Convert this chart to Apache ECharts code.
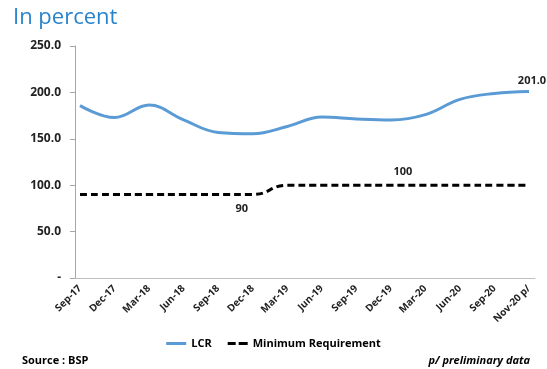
<!DOCTYPE html>
<html><head><meta charset="utf-8">
<script src="https://cdn.jsdelivr.net/npm/echarts@6/dist/echarts.min.js"></script>
<style>html,body{margin:0;padding:0;background:#fff}#c{width:547px;height:369px}</style>
</head><body><div id="c"></div>
<script>
const categories = ['Sep-17','Dec-17','Mar-18','Jun-18','Sep-18','Dec-18','Mar-19','Jun-19','Sep-19','Dec-19','Mar-20','Jun-20','Sep-20','Nov-20 p/'];
const lcr = [185.8, 172.9, 186.4, 170.3, 156.8, 155.4, 163.3, 173.5, 171.4, 170.3, 176.0, 192.5, 198.9, 201.0];
const minReq = [90, 90, 90, 90, 90, 90, 100, 100, 100, 100, 100, 100, 100, 100];
const yTicks = [0, 50, 100, 150, 200, 250];

const font = '"Open Sans", sans-serif';
const chart = echarts.init(document.getElementById('c'), null, {renderer: 'canvas'});
const lastIdx = lcr.length - 1;
const lblStyle = {fontFamily: font, fontSize: 11, fontWeight: 'bold', color: '#222'};
chart.setOption({
  animation: false,
  backgroundColor: '#fff',
  title: {
    text: 'In percent', left: 8, top: 2,
    textStyle: {fontFamily: font, fontSize: 22, fontWeight: 'normal', color: '#2a84cc'}
  },
  legend: {
    bottom: 15, left: 'center', itemWidth: 20, itemHeight: 3, itemGap: 16,
    textStyle: {fontFamily: font, fontSize: 11, fontWeight: 'bold', color: '#000'},
    data: [
      {name: 'LCR', icon: 'path://M0,0h20v3h-20z', itemStyle: {color: '#5b9bd5'}},
      {name: 'Minimum Requirement', icon: 'path://M0,0h8v3h-8z M11,0h9v3h-9z', itemStyle: {color: '#000'}}
    ]
  },
  graphic: [
    {type: 'text', left: 22, top: 355, style: {text: 'Source : BSP', font: 'bold 11px ' + font, fill: '#000'}},
    {type: 'text', right: 17, top: 355, style: {text: 'p/ preliminary data', font: 'italic bold 11px ' + font, fill: '#000'}}
  ],
  grid: [
    {left: 75, right: 12, top: 46, bottom: 91},
    {left: 80, right: 18, top: 46, bottom: 91}
  ],
  xAxis: [
    {type: 'category', gridIndex: 0, data: categories, boundaryGap: false,
     axisLine: {lineStyle: {color: '#bfbfbf'}}, axisTick: {show: false}, axisLabel: {show: false}},
    {type: 'category', gridIndex: 1, data: categories, boundaryGap: false,
     axisLine: {show: false}, axisTick: {show: false},
     axisLabel: {rotate: 45, interval: 0, margin: 9, fontFamily: font, fontSize: 10, fontWeight: 'bold', color: '#222'}}
  ],
  yAxis: [
    {type: 'value', gridIndex: 0, min: yTicks[0], max: yTicks[yTicks.length - 1], interval: 50,
     axisLine: {show: true, lineStyle: {color: '#a6a6a6'}},
     axisTick: {show: true, length: 5, lineStyle: {color: '#a6a6a6'}},
     splitLine: {show: false},
     axisLabel: {margin: 14, fontFamily: font, fontSize: 12, fontWeight: 'bold', color: '#222',
       formatter: v => v === 0 ? '-' : v.toFixed(1)}},
    {type: 'value', gridIndex: 1, min: yTicks[0], max: yTicks[yTicks.length - 1], interval: 50,
     show: false, splitLine: {show: false}}
  ],
  series: [
    {name: 'LCR', type: 'line', xAxisIndex: 1, yAxisIndex: 1, smooth: 0.4, symbol: 'none',
     color: '#5b9bd5', lineStyle: {width: 3, color: '#5b9bd5'},
     data: lcr,
     markPoint: {symbol: 'circle', symbolSize: 0, silent: true,
       label: Object.assign({show: true, position: 'top', distance: 5, offset: [3, 0], formatter: p => p.value.toFixed(1)}, lblStyle),
       data: [{coord: [categories[lastIdx], lcr[lastIdx]], value: lcr[lastIdx]}]}},
    {name: 'Minimum Requirement', type: 'line', xAxisIndex: 1, yAxisIndex: 1, smooth: 0.5, symbol: 'none',
     color: '#000', lineStyle: {width: 3, color: '#000', type: [7, 4]},
     data: minReq,
     markPoint: {symbol: 'circle', symbolSize: 0, silent: true,
       data: [
         {coord: [categories[5], minReq[5]], value: minReq[5],
          label: Object.assign({show: true, position: 'bottom', distance: 9, offset: [-11, 0], formatter: '{c}'}, lblStyle)},
         {coord: [categories[9], minReq[9]], value: minReq[9],
          label: Object.assign({show: true, position: 'top', distance: 8, offset: [12, 0], formatter: '{c}'}, lblStyle)}
       ]}}
  ]
});
</script></body></html>
